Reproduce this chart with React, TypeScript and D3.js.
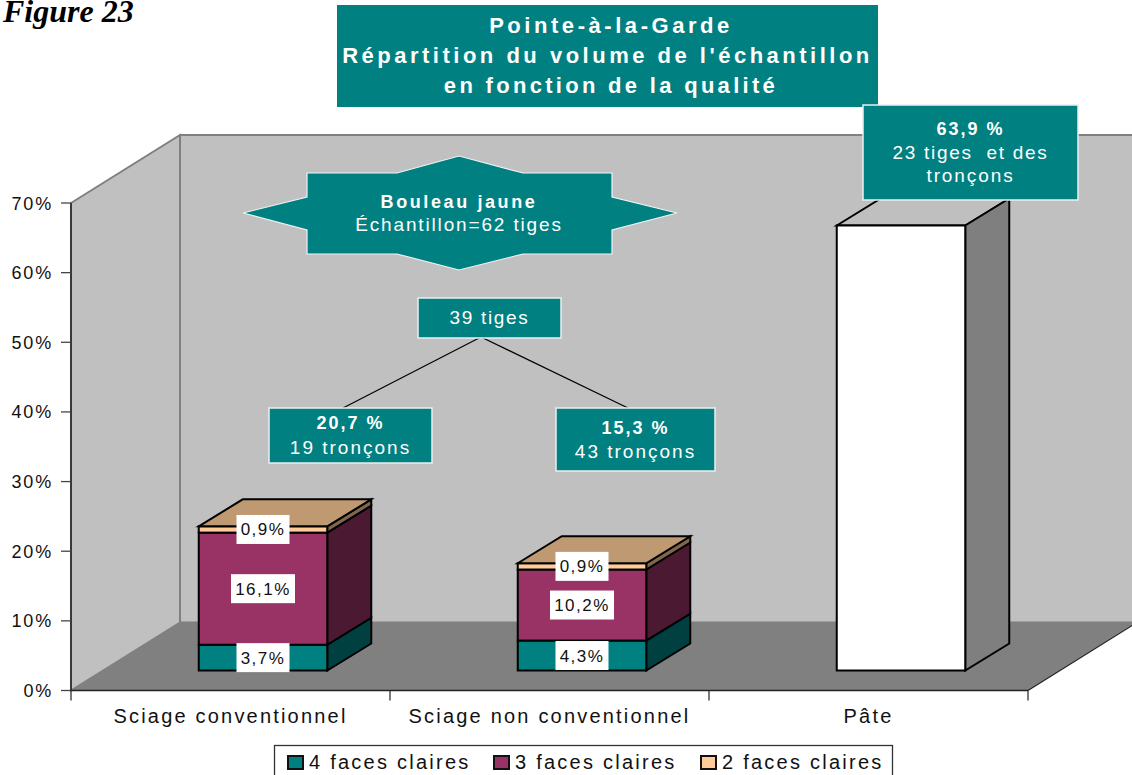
import React from "react";
import * as d3 from "d3";

const categories = ["Sciage conventionnel", "Sciage non conventionnel", "Pâte"];
const seriesNames = ["4 faces claires", "3 faces claires", "2 faces claires"];
const fourFaces = [3.7, 4.3, 0];
const threeFaces = [16.1, 10.2, 0];
const twoFaces = [0.9, 0.9, 0];
const pate = [0, 0, 63.9];
const yTicks = [0, 10, 20, 30, 40, 50, 60, 70];
const labels3 = ["3,7%", "4,3%"];
const labels2 = ["16,1%", "10,2%"];
const labels1 = ["0,9%", "0,9%"];
const titleLines = ["Pointe-à-la-Garde", "Répartition du volume de l'échantillon", "en fonction de la qualité"];

const TEAL = "#008080";
const FONT = "'Liberation Sans', Arial, sans-serif";
const front = ["#008080", "#993366", "#FFCC99"];
const side = ["#004040", "#4C1933", "#7F664C"];

const y = d3.scaleLinear().domain([0, 70]).range([690.5, 203]);
const x = d3.scaleBand().domain(categories).range([71, 1028]);
const wallDx = 109, wallDy = -68;
const floorFx = 32.5, floorFy = -20;
const barW = 128.5, depthX = 44, depthY = -27;

const pts = (a: number[][]) => a.map((p) => p.join(",")).join(" ");

function Box({ x0, y0, w, h, lines, bw = 1.5 }: any) {
  return (
    <g>
      <rect x={x0} y={y0} width={w} height={h} fill={TEAL} stroke="#e8f0f0" strokeWidth={bw} />
      {lines.map((l: any, i: number) => (
        <text key={i} x={x0 + w / 2} y={l.y} textAnchor="middle" fill="#fff" fontFamily={FONT}
          fontSize={l.size ?? 19} fontWeight={l.bold ? 700 : 400} letterSpacing={l.ls ?? 2} style={{ whiteSpace: "pre" }}>{l.t}</text>
      ))}
    </g>
  );
}

function BarSeg({ left, b, t, fr, sd }: any) {
  const r = left + barW;
  return (
    <g stroke="#000" strokeWidth={2} strokeLinejoin="miter">
      <polygon points={pts([[r, t], [r + depthX, t + depthY], [r + depthX, b + depthY], [r, b]])} fill={sd} />
      <rect x={left} y={t} width={barW} height={b - t} fill={fr} />
    </g>
  );
}

function Lbl({ cx, cy, t, w }: any) {
  return (
    <g>
      <rect x={cx - w / 2} y={cy - 14.5} width={w} height={29} fill="#fff" />
      <text x={cx} y={cy + 6} textAnchor="middle" fontFamily={FONT} fontSize={17} letterSpacing={1.5} fill="#111">{t}</text>
    </g>
  );
}

export default function App() {
  const y0 = y(0), y70 = y(70);
  const xl = 71, xr = 1028;
  const rEnd = xr + wallDx;
  const leftOf = (c: string) => (x(c) as number) + x.bandwidth() / 2 + floorFx - barW / 2;
  const yb = (v: number) => y(v) + floorFy;
  const star = [[243, 213], [307, 197], [307, 173], [397, 173], [459, 156], [523, 173], [612, 173], [612, 197], [677, 213], [612, 230], [612, 254], [523, 254], [459, 270], [397, 254], [307, 254], [307, 230]];
  const legendItems = [287, 493, 700];
  const titleCx = [611, 607.5, 611];
  const titleLs = [3.55, 3.5, 3.3];
  return (
    <svg width={1132} height={775} viewBox="0 0 1132 775" style={{ position: "absolute", left: 0, top: 0, background: "#fff" }}>
      {/* walls */}
      <polygon points={pts([[xl + wallDx, y70 + wallDy], [rEnd, y70 + wallDy], [rEnd, y0 + wallDy], [xl + wallDx, y0 + wallDy]])} fill="#c0c0c0" stroke="#808080" strokeWidth={2} />
      <polygon points={pts([[xl, y70], [xl + wallDx, y70 + wallDy], [xl + wallDx, y0 + wallDy], [xl, y0]])} fill="#c0c0c0" stroke="#808080" strokeWidth={2} />
      <polygon points={pts([[xl, y0], [xr, y0], [rEnd, y0 + wallDy], [xl + wallDx, y0 + wallDy]])} fill="#808080" />
      <line x1={xr} y1={y0} x2={rEnd} y2={y0 + wallDy} stroke="#222" strokeWidth={1.2} />
      {/* axes */}
      <line x1={xl} y1={y70} x2={xl} y2={y0} stroke="#222" strokeWidth={1.5} />
      <line x1={xl} y1={y0} x2={xr} y2={y0} stroke="#222" strokeWidth={1.5} />
      {yTicks.map((t) => (
        <g key={t}>
          <line x1={61} x2={xl} y1={y(t)} y2={y(t)} stroke="#444" strokeWidth={1.3} />
          <text x={53} y={y(t) + 6.5} textAnchor="end" fontFamily={FONT} fontSize={18} letterSpacing={1.8} fill="#111">{t}%</text>
        </g>
      ))}
      {[...categories.map((c) => x(c) as number), xr].map((p, i) => (
        <line key={i} x1={p} x2={p} y1={y0} y2={y0 + 10} stroke="#333" strokeWidth={1.3} />
      ))}
      {categories.map((c) => (
        <text key={c} x={(x(c) as number) + x.bandwidth() / 2} y={723} textAnchor="middle" fontFamily={FONT} fontSize={20} letterSpacing={2.2} fill="#111">{c}</text>
      ))}

      {/* stacked bars */}
      {categories.slice(0, 2).map((c, i) => {
        const left = leftOf(c);
        const vals = [fourFaces[i], threeFaces[i], twoFaces[i]];
        const cum = d3.cumsum(vals);
        const top = yb(cum[2]);
        const r = left + barW;
        const cx = left + barW / 2;
        const texts = [labels3[i], labels2[i], labels1[i]];
        return (
          <g key={c}>
            {vals.map((v, k) => (
              <BarSeg key={k} left={left} b={yb(k === 0 ? 0 : cum[k - 1])} t={yb(cum[k])} fr={front[k]} sd={side[k]} />
            ))}
            <polygon points={pts([[left, top], [left + depthX, top + depthY], [r + depthX, top + depthY], [r, top]])} fill="#BF9972" stroke="#000" strokeWidth={2} />
            {vals.map((v, k) => (
              <Lbl key={k} cx={cx} cy={yb((k === 0 ? 0 : cum[k - 1]) + v / 2)} t={texts[k]} w={texts[k].length > 4 ? 64 : 53} />
            ))}
          </g>
        );
      })}
      {/* Pâte bar */}
      {(() => {
        const left = leftOf(categories[2]);
        const r = left + barW;
        const top = yb(pate[2]);
        const b = yb(0);
        return (
          <g stroke="#000" strokeWidth={2}>
            <polygon points={pts([[left, top], [left + depthX, top + depthY], [r + depthX, top + depthY], [r, top]])} fill="#BFBFBF" />
            <polygon points={pts([[r, top], [r + depthX, top + depthY], [r + depthX, b + depthY], [r, b]])} fill="#7F7F7F" />
            <rect x={left} y={top} width={barW} height={b - top} fill="#fff" />
          </g>
        );
      })()}

      {/* connectors */}
      <line x1={481} y1={337} x2={343} y2={408} stroke="#000" strokeWidth={1.2} />
      <line x1={481} y1={337} x2={628} y2={408} stroke="#000" strokeWidth={1.2} />

      {/* annotations */}
      <polygon points={pts(star)} fill={TEAL} stroke="#eef4f4" strokeWidth={1.2} />
      <text x={459} y={208} textAnchor="middle" fontFamily={FONT} fontSize={18} fontWeight={700} letterSpacing={2.6} fill="#fff">Bouleau jaune</text>
      <text x={459} y={231} textAnchor="middle" fontFamily={FONT} fontSize={19} letterSpacing={1.85} fill="#fff">Échantillon=62 tiges</text>

      <rect x={337} y={5} width={541} height={102} fill={TEAL} />
      {titleLines.map((t, i) => (
        <text key={t} x={titleCx[i]} y={33 + i * 30} textAnchor="middle" fontFamily={FONT} fontSize={22} fontWeight={700} letterSpacing={titleLs[i]} fill="#fff">{t}</text>
      ))}

      <Box x0={863} y0={105} w={215} h={95} lines={[
        { t: "63,9 %", y: 135, bold: true, size: 18, ls: 2 },
        { t: "23 tiges  et des", y: 159, ls: 1.7 },
        { t: "tronçons", y: 182, ls: 1.9 },
      ]} />
      <Box x0={418} y0={298} w={143} h={40} lines={[{ t: "39 tiges", y: 324, ls: 1.7 }]} />
      <Box x0={269} y0={408} w={163} h={55} lines={[
        { t: "20,7 %", y: 429, bold: true, size: 18 },
        { t: "19 tronçons", y: 454, ls: 2 },
      ]} />
      <Box x0={556} y0={408} w={159} h={63} lines={[
        { t: "15,3 %", y: 434, bold: true, size: 18 },
        { t: "43 tronçons", y: 458, ls: 2 },
      ]} />

      {/* title figure */}
      <text x={3} y={22} fontFamily="'Liberation Serif', 'Times New Roman', serif" fontSize={32} fontWeight={700} fontStyle="italic" fill="#000">Figure 23</text>

      {/* legend */}
      <rect x={274.5} y={745.5} width={618} height={40} fill="#fff" stroke="#333" strokeWidth={1.3} />
      {seriesNames.map((s, i) => (
        <g key={s}>
          <rect x={legendItems[i] + 1} y={756} width={15} height={13} fill={front[i]} stroke="#111" strokeWidth={2} />
          <text x={legendItems[i] + 22} y={769} fontFamily={FONT} fontSize={20} letterSpacing={2.25} fill="#111">{s}</text>
        </g>
      ))}
    </svg>
  );
}
